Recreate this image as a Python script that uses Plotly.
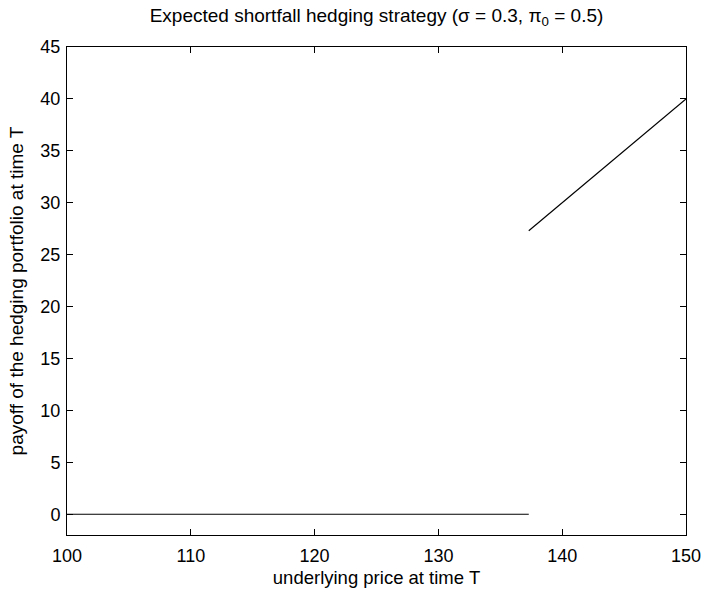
import plotly.graph_objects as go

# Hedging portfolio payoff: zero below the threshold, linear above it
x_low = [100, 137.3]
y_low = [0, 0]
x_high = [137.3, 150]
y_high = [27.3, 40]

x_ticks = [100, 110, 120, 130, 140, 150]
y_ticks = [0, 5, 10, 15, 20, 25, 30, 35, 40, 45]

family = "Liberation Sans, Arial, Helvetica, sans-serif"
tick_font = dict(family=family, size=18, color="black")

fig = go.Figure()
for xs, ys in [(x_low, y_low), (x_high, y_high)]:
    fig.add_trace(go.Scatter(x=xs, y=ys, mode="lines",
                             line=dict(color="black", width=1.2),
                             showlegend=False, hoverinfo="skip"))

axis_common = dict(showline=True, linecolor="black", linewidth=1, mirror="ticks",
                   ticks="inside", ticklen=6, tickcolor="black", tickwidth=1,
                   showgrid=False, zeroline=False, tickfont=tick_font, automargin=False)

fig.update_xaxes(range=[100, 150], tickvals=x_ticks, ticklabelstandoff=4,
                 title=dict(text="underlying price at time T",
                            font=dict(family=family, size=18.5, color="black"), standoff=6),
                 **axis_common)
fig.update_yaxes(range=[-2, 45], tickvals=y_ticks, ticklabelstandoff=2,
                 title=dict(text="payoff of the hedging portfolio at time T",
                            font=dict(family=family, size=19, color="black"), standoff=11),
                 **axis_common)

fig.update_layout(
    width=704, height=590,
    margin=dict(l=67, r=18, t=47, b=55),
    paper_bgcolor="white", plot_bgcolor="white",
    font=tick_font,
    title=dict(text="Expected shortfall hedging strategy (σ = 0.3, π<sub>0</sub> = 0.5)",
               x=0.5, xref="paper", xanchor="center",
               y=1 - 9 / 590, yref="container", yanchor="top",
               font=dict(family=family, size=19, color="black")),
)

fig.write_html("out.html")
